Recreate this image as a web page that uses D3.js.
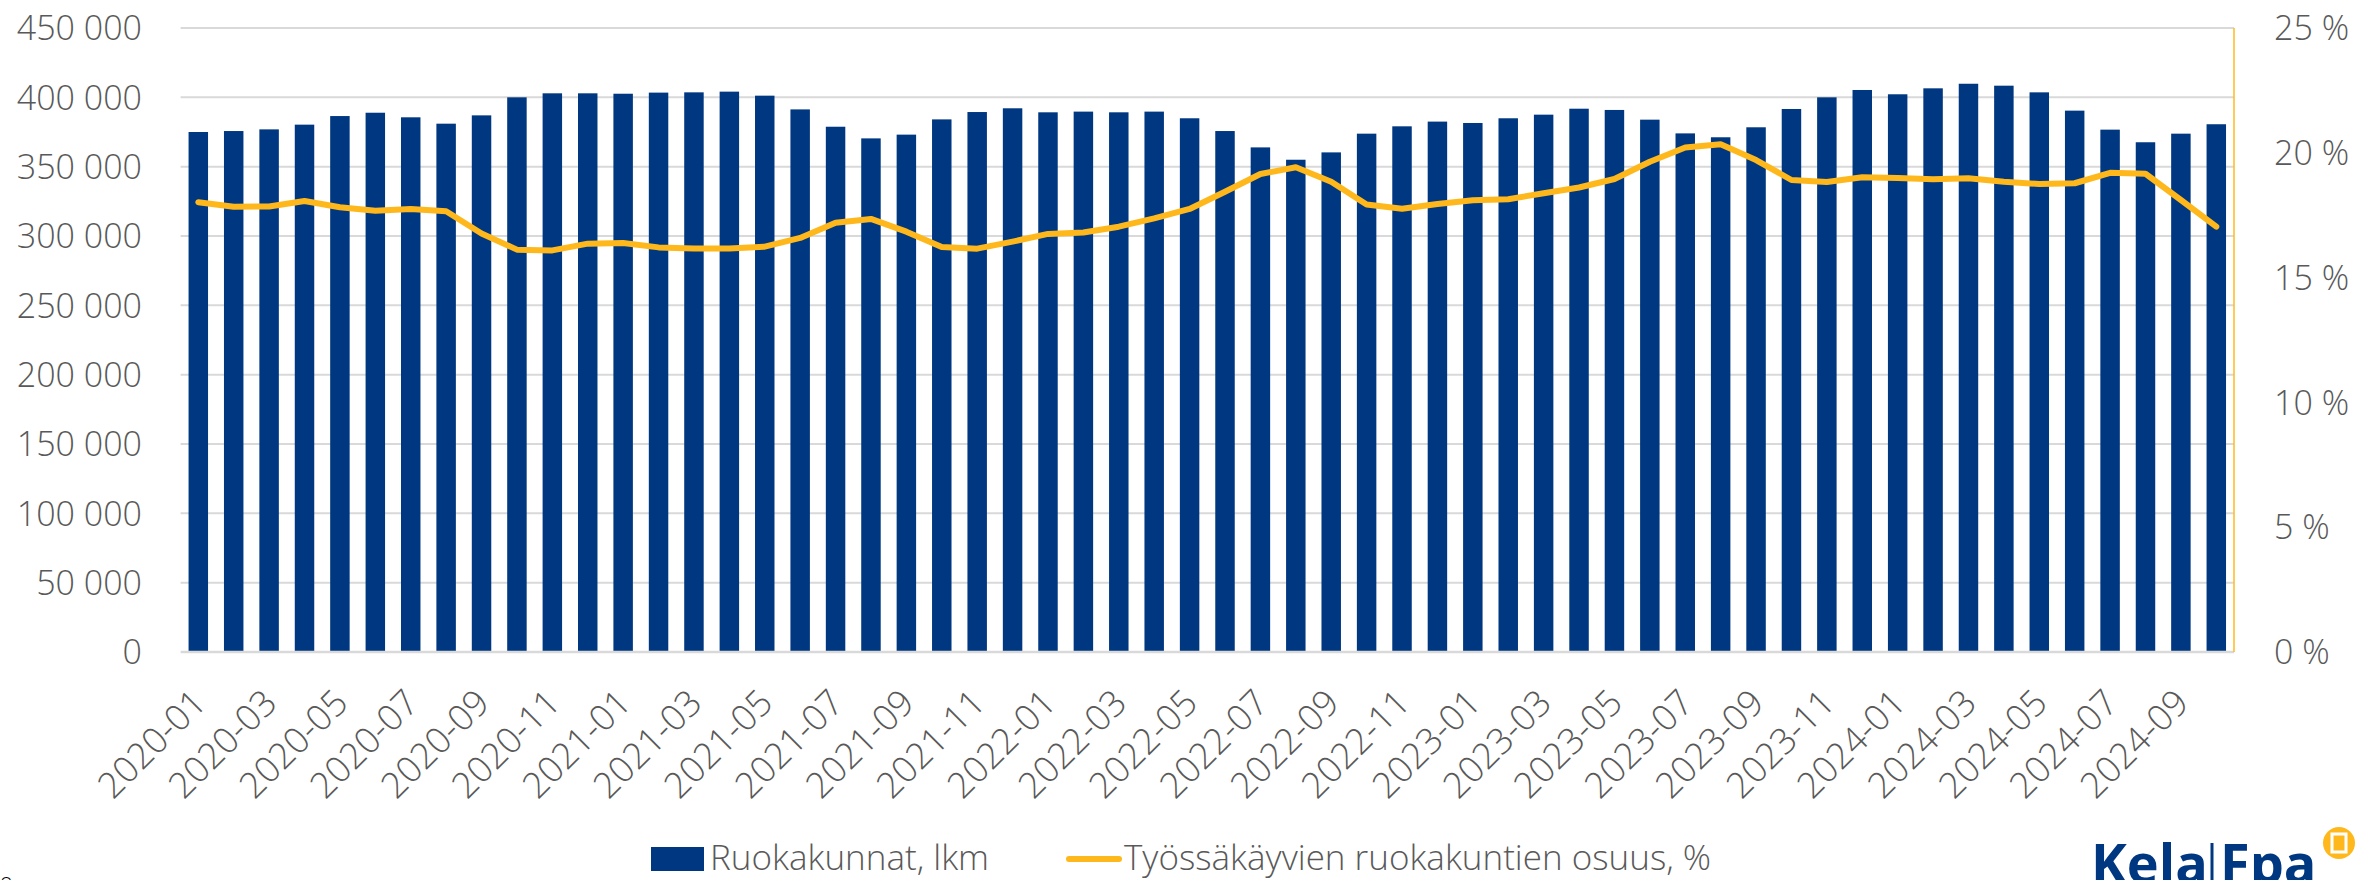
<!DOCTYPE html>
<html>
<head>
<meta charset="utf-8">
<script src="https://cdn.jsdelivr.net/npm/d3@7"></script>
<style>
  body { margin: 0; background: #fff; }
  svg { display: block; }
  text { font-family: "Open Sans", "Segoe UI", sans-serif; font-weight: 300; fill: #595959; }
</style>
</head>
<body>
<script>
// monthly data 2020-01 .. 2024-10
var months = [];
for (var yr = 2020; yr <= 2024; yr++) {
  for (var m = 1; m <= 12; m++) {
    if (yr === 2024 && m > 10) break;
    months.push(yr + "-" + (m < 10 ? "0" + m : m));
  }
}

var households = [
  375000, 375700, 376900, 380300, 386500, 388900, 385600, 381000, 387000, 400000, 402900, 402900,
  402600, 403400, 403600, 404100, 401200, 391300, 378800, 370400, 373100, 384100, 389400, 392100,
  389200, 389700, 389200, 389700, 384900, 375700, 363900, 355000, 360300, 373800, 379100, 382500,
  381500, 384900, 387500, 391800, 390900, 383900, 374000, 371200, 378400, 391600, 400000, 405300,
  402200, 406500, 409800, 408400, 403600, 390400, 376700, 367600, 373800, 380600
];

var workingShare = [
  18.02, 17.84, 17.85, 18.07, 17.82, 17.68, 17.75, 17.66, 16.77, 16.12, 16.09, 16.36,
  16.39, 16.21, 16.17, 16.17, 16.24, 16.59, 17.20, 17.35, 16.84, 16.23, 16.16, 16.44,
  16.75, 16.81, 17.04, 17.37, 17.75, 18.44, 19.15, 19.42, 18.84, 17.93, 17.76, 17.95,
  18.10, 18.14, 18.38, 18.61, 18.95, 19.64, 20.21, 20.34, 19.71, 18.91, 18.83, 19.02,
  18.99, 18.94, 18.98, 18.84, 18.75, 18.78, 19.20, 19.16, 18.11, 17.04
];

var leftTicks = [0, 50000, 100000, 150000, 200000, 250000, 300000, 350000, 400000, 450000];
var rightTicks = [0, 5, 10, 15, 20, 25];
var seriesNames = ["Ruokakunnat, lkm", "Työssäkäyvien ruokakuntien osuus, %"];

var width = 2356, height = 880;
var plotL = 180.6, plotR = 2234, plotT = 28, plotB = 652;

var blue = "#003781", yellow = "#FFB81C", grid = "#d9d9d9";

var svg = d3.select("body").append("svg")
  .attr("width", width)
  .attr("height", height);

var x = d3.scaleBand()
  .domain(months)
  .range([plotL, plotR])
  .paddingInner(0.45)
  .paddingOuter(0.225);

var yL = d3.scaleLinear().domain([0, 450000]).range([plotB, plotT]);
var yR = d3.scaleLinear().domain([0, 25]).range([plotB, plotT]);

var fmt = function(v) { return d3.format(",")(v).replace(/,/g, " "); };

// gridlines
svg.append("g").selectAll("line")
  .data(leftTicks.slice(1))
  .enter().append("line")
  .attr("x1", plotL).attr("x2", plotR)
  .attr("y1", function(d) { return yL(d); })
  .attr("y2", function(d) { return yL(d); })
  .attr("stroke", grid)
  .attr("stroke-width", 2);

// left labels
svg.append("g").selectAll("text")
  .data(leftTicks)
  .enter().append("text")
  .attr("x", 142)
  .attr("y", function(d) { return yL(d); })
  .attr("dy", "0.36em")
  .attr("text-anchor", "end")
  .style("font-size", "34px")
  .text(fmt);

// right labels
svg.append("g").selectAll("text")
  .data(rightTicks)
  .enter().append("text")
  .attr("x", 2274)
  .attr("y", function(d) { return yR(d); })
  .attr("dy", "0.36em")
  .style("font-size", "34px")
  .text(function(d) { return d + " %"; });

// bars
svg.append("g").selectAll("rect")
  .data(households)
  .enter().append("rect")
  .attr("x", function(d, i) { return x(months[i]); })
  .attr("y", function(d) { return yL(d); })
  .attr("width", x.bandwidth())
  .attr("height", function(d) { return yL(0) - yL(d); })
  .attr("fill", blue);

// axis lines
svg.append("line")
  .attr("x1", plotL).attr("x2", plotR)
  .attr("y1", plotB).attr("y2", plotB)
  .attr("stroke", grid).attr("stroke-width", 2.5);

svg.append("line")
  .attr("x1", plotR).attr("x2", plotR)
  .attr("y1", plotT).attr("y2", plotB)
  .attr("stroke", yellow).attr("stroke-width", 1.5);

// share line
var line = d3.line()
  .x(function(d, i) { return x(months[i]) + x.bandwidth() / 2; })
  .y(function(d) { return yR(d); });

svg.append("path")
  .datum(workingShare)
  .attr("d", line)
  .attr("fill", "none")
  .attr("stroke", yellow)
  .attr("stroke-width", 6)
  .attr("stroke-linejoin", "round")
  .attr("stroke-linecap", "round");

// month labels, every other
svg.append("g").selectAll("text")
  .data(months.filter(function(d, i) { return i % 2 === 0; }))
  .enter().append("text")
  .attr("transform", function(d) {
    var cx = x(d) + x.bandwidth() / 2;
    return "translate(" + (cx + 10) + ",705) rotate(-45)";
  })
  .attr("text-anchor", "end")
  .style("font-size", "36px")
  .text(function(d) { return d; });

// legend
var lg = svg.append("g");
lg.append("rect")
  .attr("x", 651).attr("y", 847)
  .attr("width", 53).attr("height", 24)
  .attr("fill", blue);
lg.append("text")
  .attr("x", 710).attr("y", 870)
  .style("font-size", "35px")
  .text(seriesNames[0]);
lg.append("line")
  .attr("x1", 1069).attr("x2", 1119)
  .attr("y1", 859).attr("y2", 859)
  .attr("stroke", yellow).attr("stroke-width", 6)
  .attr("stroke-linecap", "round");
lg.append("text")
  .attr("x", 1124).attr("y", 870)
  .style("font-size", "35px")
  .text(seriesNames[1]);

// logo
var logo = svg.append("g").style("font-family", "'Open Sans', sans-serif");
logo.append("text")
  .attr("x", 2091).attr("y", 883)
  .style("font-size", "54px")
  .style("font-weight", "700")
  .style("fill", blue)
  .text("Kela");
logo.append("line")
  .attr("x1", 2212).attr("x2", 2212)
  .attr("y1", 843).attr("y2", 880)
  .attr("stroke", blue).attr("stroke-width", 3);
logo.append("text")
  .attr("x", 2220).attr("y", 883)
  .style("font-size", "54px")
  .style("font-weight", "700")
  .style("fill", blue)
  .text("Fpa");
logo.append("circle")
  .attr("cx", 2339).attr("cy", 843).attr("r", 16)
  .attr("fill", yellow);
logo.append("rect")
  .attr("x", 2332).attr("y", 834).attr("width", 14).attr("height", 18)
  .attr("fill", "none").attr("stroke", "#fff").attr("stroke-width", 3);

// page marker at bottom-left corner
svg.append("text")
  .attr("x", 0).attr("y", 893)
  .style("font-size", "22px")
  .style("fill", "#000")
  .text("8");
</script>
</body>
</html>
